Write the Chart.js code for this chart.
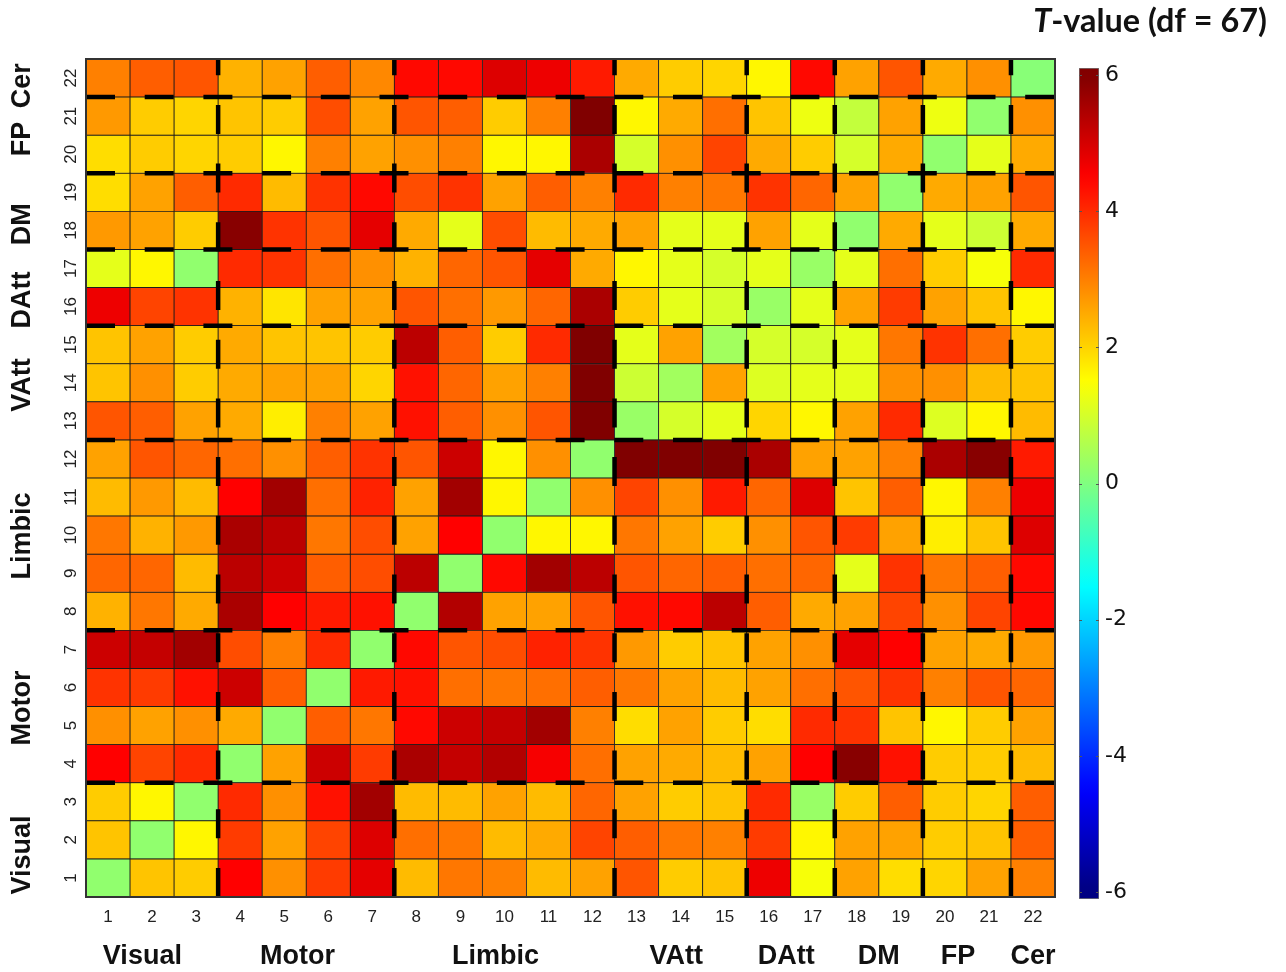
<!DOCTYPE html>
<html><head><meta charset="utf-8">
<script src="https://cdn.jsdelivr.net/npm/chart.js@4.4.1/dist/chart.umd.min.js"></script>
<style>
html,body{margin:0;padding:0;background:#fff;}
#wrap{position:relative;width:1286px;height:972px;overflow:hidden;}
#main{position:absolute;left:0;top:0;}
#cbar{position:absolute;left:1060px;top:40px;}
</style></head><body>
<div id="wrap"><canvas id="main" width="1286" height="972"></canvas><canvas id="cbar" width="226" height="900"></canvas></div>
<script>
// ---- data ----
const colLabels = ['1','2','3','4','5','6','7','8','9','10','11','12','13','14','15','16','17','18','19','20','21','22'];
const rowLabels = ['1','2','3','4','5','6','7','8','9','10','11','12','13','14','15','16','17','18','19','20','21','22'];
const groupNames = ['Visual','Motor','Limbic','VAtt','DAtt','DM','FP','Cer'];
const groupEnds = [3, 7, 12, 15, 17, 19, 21, 22];
const cbTicks = [-6, -4, -2, 0, 2, 4, 6];
const cbMin = -6, cbMax = 6;          // colour range
const cbAxisMin = -6.1, cbAxisMax = 6.1; // colorbar axis extent
const titleItalic = 'T';
const titleRest = '-value (df = 67)';

// T-values, listed from the top row (22) down to the bottom row (1); columns 1..22
const row22 = [3.0,3.4,3.5,2.4,2.6,3.4,2.9,4.4,4.4,4.9,4.7,4.2,2.5,2.1,2.0,1.6,4.4,2.6,3.5,2.5,2.8,0.1];
const row21 = [2.7,2.1,2.0,2.2,2.1,3.6,2.6,3.5,3.4,2.1,3.0,6.0,1.6,2.5,3.2,2.2,1.3,0.8,2.6,1.3,0.2,2.8];
const row20 = [1.9,2.1,2.0,2.1,1.6,3.0,2.6,2.8,3.0,1.6,1.6,5.5,1.0,2.8,3.7,2.5,2.1,1.0,2.5,0.2,1.2,2.5];
const row19 = [1.9,2.6,3.4,4.0,2.3,3.9,4.4,3.6,3.9,2.6,3.4,3.0,4.0,3.0,3.1,3.9,3.3,2.6,0.2,2.5,2.6,3.5];
const row18 = [2.7,2.6,2.1,5.9,3.9,3.5,4.8,2.5,1.2,3.6,2.3,2.5,2.6,1.2,1.2,2.6,1.2,0.2,2.5,1.2,0.9,2.5];
const row17 = [1.2,1.6,0.2,4.0,3.9,3.2,2.8,2.4,3.3,3.5,4.8,2.5,1.6,1.2,1.0,1.2,0.3,1.2,3.2,2.1,1.4,4.0];
const row16 = [4.7,3.7,3.9,2.4,1.8,2.6,2.6,3.5,3.2,2.7,3.3,5.5,2.1,1.2,1.0,0.3,1.2,2.6,3.8,2.6,2.2,1.6];
const row15 = [2.2,2.6,2.1,2.5,2.2,2.2,2.1,5.3,3.4,2.1,4.0,6.0,1.2,2.6,0.4,1.0,1.0,1.2,3.1,3.9,3.2,2.1];
const row14 = [2.2,2.8,2.1,2.5,2.6,2.6,2.0,4.3,3.3,2.6,3.0,6.0,0.9,0.4,2.6,1.1,1.2,1.2,2.8,2.8,2.3,2.2];
const row13 = [3.5,3.4,2.6,2.5,1.7,3.0,2.6,4.3,3.4,2.8,3.5,6.0,0.3,1.0,1.2,2.0,1.6,2.6,4.0,1.1,1.6,2.3];
const row12 = [2.6,3.5,3.3,3.2,2.8,3.4,3.9,3.5,5.1,1.6,2.8,0.2,6.0,6.0,6.0,5.5,2.6,2.6,3.0,5.5,5.9,4.2];
const row11 = [2.3,2.7,2.3,4.5,5.6,3.2,4.1,2.6,5.6,1.6,0.2,2.8,3.7,2.8,4.2,3.3,4.9,2.2,3.4,1.6,3.0,4.7];
const row10 = [3.1,2.4,2.7,5.5,5.3,3.1,3.6,2.6,4.5,0.2,1.6,1.6,3.1,2.6,2.1,2.8,3.5,3.8,2.6,1.7,2.2,4.9];
const row9  = [3.3,3.3,2.3,5.3,5.1,3.4,3.6,5.3,0.2,4.4,5.6,5.3,3.5,3.3,3.4,3.2,3.3,1.2,3.9,3.1,3.4,4.4];
const row8  = [2.4,3.1,2.5,5.5,4.5,4.2,4.3,0.2,5.4,2.6,2.6,3.5,4.3,4.4,5.3,3.4,2.5,2.6,3.7,2.8,3.7,4.4];
const row7  = [5.1,5.2,5.6,3.6,3.0,4.0,0.2,4.4,3.5,3.6,4.1,3.9,2.7,2.1,2.2,2.6,2.8,4.8,4.5,2.6,2.5,2.7];
const row6  = [3.9,3.8,4.3,5.1,3.4,0.2,4.2,4.3,3.2,3.1,3.2,3.4,3.1,2.6,2.3,2.6,3.2,3.5,3.9,3.0,3.5,3.3];
const row5  = [2.8,2.6,2.8,2.5,0.2,3.4,3.1,4.4,5.1,5.2,5.6,3.0,1.9,2.6,2.1,1.9,4.0,3.9,2.2,1.6,2.1,2.6];
const row4  = [4.5,3.7,4.0,0.2,2.6,5.1,3.8,5.5,5.2,5.4,4.6,3.2,2.6,2.5,2.3,2.6,4.5,5.9,4.3,2.1,2.1,2.3];
const row3  = [2.1,1.6,0.2,4.0,2.8,4.3,5.6,2.3,2.3,2.6,2.3,3.3,2.6,2.1,2.2,4.0,0.3,2.1,3.4,2.1,2.0,3.4];
const row2  = [2.2,0.2,1.6,3.8,2.6,3.7,4.9,3.2,3.1,2.3,2.5,3.7,3.4,3.1,3.0,3.8,1.6,2.6,2.6,2.1,2.2,3.4];
const row1  = [0.2,2.2,2.1,4.5,2.8,3.8,4.8,2.3,3.1,3.0,2.3,2.6,3.5,2.1,2.2,4.7,1.4,2.6,1.9,2.0,2.6,3.0];
const rowsBottomUp = [row1,row2,row3,row4,row5,row6,row7,row8,row9,row10,row11,row12,row13,row14,row15,row16,row17,row18,row19,row20,row21,row22];

// ---- layout (label anchors in axis units, not data) ----
const groupLabelX = [1.78, 5.3, 9.8, 13.9, 16.4, 18.5, 20.3, 22.0];
const groupLabelY = [1.6, 5.46, 9.98, 13.94, 16.17, 18.16, 20.4, 21.8];

// ---- jet colormap ----
function clamp01(x){ return Math.max(0, Math.min(1, x)); }
function jetRGB(t){
  const r = clamp01(Math.min(4*t-1.5, -4*t+4.5));
  const g = clamp01(Math.min(4*t-0.5, -4*t+3.5));
  const b = clamp01(Math.min(4*t+0.5, -4*t+2.5));
  return [Math.round(r*255), Math.round(g*255), Math.round(b*255)];
}
function jet(v){
  const t = clamp01((v - cbMin) / (cbMax - cbMin));
  const c = jetRGB(t);
  return `rgb(${c[0]},${c[1]},${c[2]})`;
}

const FONT = "'Liberation Sans', Arial, sans-serif";

const datasets = rowsBottomUp.map((vals, i) => {
  const r = i + 1;
  return {
    label: 'row ' + rowLabels[i],
    data: vals.map(() => [r - 0.5, r + 0.5]),
    backgroundColor: vals.map(jet),
    borderColor: '#1c1c1c',
    borderWidth: 0.8,
    borderSkipped: false,
    grouped: false,
    barPercentage: 1,
    categoryPercentage: 1
  };
});

const boundaries = groupEnds.slice(0, -1).map(e => e + 0.5);

const overlay = {
  id: 'overlay',
  afterDatasetsDraw(chart){
    const {ctx, chartArea: a, scales: {x, y}} = chart;
    ctx.save();
    // dashed module boundaries
    ctx.strokeStyle = '#000';
    ctx.lineWidth = 4.5;
    ctx.lineCap = 'butt';
    ctx.setLineDash([29, 29.7]);
    boundaries.forEach(b => {
      const py = y.getPixelForValue(b);
      ctx.beginPath(); ctx.moveTo(a.left, py); ctx.lineTo(a.right, py); ctx.stroke();
      const px = x.getPixelForValue(b - 1);
      ctx.beginPath(); ctx.moveTo(px, a.bottom); ctx.lineTo(px, a.top); ctx.stroke();
    });
    ctx.setLineDash([]);
    // frame
    ctx.lineWidth = 2;
    ctx.strokeStyle = '#333';
    ctx.strokeRect(a.left, a.top, a.right - a.left, a.bottom - a.top);

    // y tick labels (rotated)
    ctx.fillStyle = '#222';
    ctx.font = `17px ${FONT}`;
    ctx.textAlign = 'center';
    ctx.textBaseline = 'middle';
    rowLabels.forEach((lab, i) => {
      const py = y.getPixelForValue(i + 1);
      ctx.save(); ctx.translate(71, py); ctx.rotate(-Math.PI/2); ctx.fillText(lab, 0, 0); ctx.restore();
    });
    // group labels
    ctx.fillStyle = '#111';
    ctx.font = `bold 27px ${FONT}`;
    groupNames.forEach((g, k) => {
      const px = x.getPixelForValue(groupLabelX[k] - 1);
      ctx.fillText(g, px, 957);
      const py = y.getPixelForValue(groupLabelY[k]);
      ctx.save(); ctx.translate(23, py); ctx.rotate(-Math.PI/2); ctx.fillText(g, 0, 0); ctx.restore();
    });
    // title
    let fs = 28;
    const fam = "Lato, 'Open Sans', sans-serif";
    ctx.font = `italic bold ${fs}px ${fam}`;
    let w1 = ctx.measureText(titleItalic).width;
    ctx.font = `bold ${fs}px ${fam}`;
    let w2 = ctx.measureText(titleRest).width;
    fs = fs * 234 / (w1 + w2);
    ctx.font = `italic bold ${fs}px ${fam}`;
    w1 = ctx.measureText(titleItalic).width;
    ctx.font = `bold ${fs}px ${fam}`;
    w2 = ctx.measureText(titleRest).width;
    const right = 1267;
    const startX = right - w1 - w2;
    ctx.textAlign = 'left';
    ctx.textBaseline = 'alphabetic';
    ctx.fillStyle = '#111';
    ctx.font = `italic bold ${fs}px ${fam}`;
    ctx.fillText(titleItalic, startX, 32);
    ctx.font = `bold ${fs}px ${fam}`;
    ctx.fillText(titleRest, startX + w1, 32);
    ctx.restore();
  }
};

new Chart(document.getElementById('main'), {
  type: 'bar',
  data: { labels: colLabels, datasets },
  options: {
    responsive: false,
    animation: false,
    devicePixelRatio: 1,
    layout: { padding: { top: 59, right: 231, left: 0, bottom: 0 } },
    plugins: { legend: { display: false }, tooltip: { enabled: false } },
    scales: {
      x: {
        type: 'category', offset: true,
        grid: { display: false, drawTicks: false },
        border: { display: false },
        ticks: { font: { family: FONT, size: 17 }, color: '#222', padding: 10, maxRotation: 0, autoSkip: false },
        afterFit(s){ s.height = 75; }
      },
      y: {
        type: 'linear', min: 0.5, max: 22.5,
        grid: { display: false, drawTicks: false },
        border: { display: false },
        ticks: { display: false },
        afterFit(s){ s.width = 86; }
      }
    }
  },
  plugins: [overlay]
});

// ---- colorbar ----
const cbTickMarks = {
  id: 'cbTickMarks',
  afterDatasetsDraw(chart){
    const {ctx, chartArea: a, scales: {y}} = chart;
    ctx.save();
    ctx.strokeStyle = '#555';
    ctx.lineWidth = 1;
    cbTicks.forEach(v => {
      const py = Math.round(y.getPixelForValue(v)) + 0.5;
      ctx.beginPath(); ctx.moveTo(a.left, py); ctx.lineTo(a.left + 3, py); ctx.stroke();
      ctx.beginPath(); ctx.moveTo(a.right - 3, py); ctx.lineTo(a.right, py); ctx.stroke();
    });
    ctx.restore();
  }
};

new Chart(document.getElementById('cbar'), {
  type: 'bar',
  data: {
    labels: [''],
    datasets: [{
      data: [[cbAxisMin, cbAxisMax]],
      backgroundColor(ctx){
        const c = ctx.chart, s = c.scales.y;
        if (!s || !c.chartArea) return '#888';
        const y0 = s.getPixelForValue(cbAxisMin), y1 = s.getPixelForValue(cbAxisMax);
        const g = c.ctx.createLinearGradient(0, y0, 0, y1);
        for (let i = 0; i <= 64; i++) {
          const f = i / 64;
          const v = cbAxisMin + f * (cbAxisMax - cbAxisMin);
          g.addColorStop(f, jet(v));
        }
        return g;
      },
      borderColor: '#777', borderWidth: 1, borderSkipped: false,
      barPercentage: 1, categoryPercentage: 1
    }]
  },
  options: {
    responsive: false, animation: false, devicePixelRatio: 1,
    layout: { padding: { top: 28, bottom: 41, left: 19, right: 0 } },
    plugins: { legend: { display: false }, tooltip: { enabled: false } },
    scales: {
      x: { display: false },
      y: {
        position: 'right', min: cbAxisMin, max: cbAxisMax,
        afterBuildTicks(s){ s.ticks = cbTicks.map(v => ({ value: v })); },
        ticks: { font: { family: "'DejaVu Sans', sans-serif", size: 22 }, color: '#111', padding: 6 },
        grid: { display: false, drawTicks: false },
        border: { display: false },
        afterFit(s){ s.width = 187; }
      }
    }
  },
  plugins: [cbTickMarks]
});
</script>
</body></html>
